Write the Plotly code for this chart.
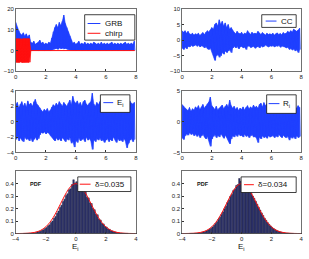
import numpy as np
import plotly.graph_objects as go

W, H = 309, 259

# ---------------- data ----------------
t = np.round(np.arange(0, 8, 0.1), 2)  # sample times (envelope read every 0.1)

grb_hi = [13.5, 11, 9.5, 8, 7.5, 8.5, 7, 8, 6.5, 7.5,
          4, 3.5, 4.5, 3, 3.5, 4, 5, 3.5, 4, 3,
          3.5, 3, 4, 3.5, 6, 9, 11, 12.5, 11, 13.5,
          12, 14, 17, 13, 11, 9, 7, 5, 3.5, 4,
          3, 3.5, 4.5, 3, 3.5, 3, 4, 3, 3.5, 3,
          3.5, 3, 4, 3.5, 3, 3.5, 3, 4, 3, 3.5,
          3, 3.5, 3, 3.5, 4, 3, 3.5, 3, 3.5, 3,
          3.5, 3, 3.5, 4, 3, 3.5, 3, 3.5, 3, 4.5]
grb_lo = [0.2, 0, 0.1, 0, 0.2, 0, 0.1, 0, 0.2, 0,
          0.1, 0, 0.2, 0, 0.1, 0, 0.2, 0, 0.1, 0,
          0.2, 0, 0.1, 0, 0.3, 0.5, 0.8, 1.0, 0.6, 1.2,
          0.9, 1.1, 0.8, 1.0, 0.6, 0.4, 0.2, 0.1, 0, 0.1,
          0, 0.2, 0, 0.1, 0, 0.2, 0, 0.1, 0, 0.2,
          0, 0.1, 0, 0.2, 0, 0.1, 0, 0.2, 0, 0.1,
          0, 0.2, 0, 0.1, 0, 0.2, 0, 0.1, 0, 0.2,
          0, 0.1, 0, 0.2, 0, 0.1, 0, 0.2, 0, 0.1]
chirp_hi = [5.7, 5.6, 5.7, 5.7, 5.5, 5.7, 5.7, 5.6, 5.7, 5.7] + [0] * 70
chirp_lo = [-5.6, -5.7, -5.7, -5.5, -5.7, -5.7, -5.6, -5.7, -5.7, -5.6] + [0] * 70

cc_hi = [3, 2.5, 3, 2.2, 2.8, 2, 1.8, 2.2, 1.6, 2,
         1.8, 2.2, 1.5, 2, 2.4, 1.8, 2.5, 3, 2.6, 3.2,
         4, 3.5, 5, 5.5, 4.5, 6.5, 5, 6, 4.5, 5.5,
         4, 5, 3.5, 4, 3, 2.5, 2, 2.8, 2.2, 2,
         2.5, 1.8, 2.2, 2, 3, 2.2, 1.8, 2.5, 2, 2.2,
         2, 2.8, 2.2, 1.8, 2.4, 2, 1.6, 2.2, 1.8, 2,
         1.8, 2.2, 1.6, 2, 2.3, 1.8, 2.1, 1.7, 2.4, 2,
         2.2, 2.8, 2.4, 3, 2.6, 3.5, 3, 2.8, 3.2, 3.8]
cc_lo = [-2.5, -3, -2.2, -2.8, -2, -2.2, -1.6, -2, -1.8, -1.5,
         -2, -1.6, -2.2, -1.8, -2, -2.5, -2, -2.8, -3, -2.5,
         -3.5, -5, -6.5, -5, -4.5, -5.5, -5, -4, -4.5, -3.5,
         -4, -3.5, -3, -4, -2.5, -2, -2.5, -2, -2.8, -2.2,
         -2, -2.5, -2.2, -3, -2, -1.8, -2.4, -2.2, -2, -2.6,
         -2.2, -2, -2.5, -1.8, -2.2, -2, -1.6, -1.9, -2.2, -1.8,
         -2, -1.7, -2.2, -1.8, -2, -1.6, -2.3, -1.9, -2, -2.2,
         -2.5, -2.2, -3, -2.6, -3.2, -2.8, -3.5, -3, -4, -3]

ei_hi = [2.2, 2.5, 1.8, 2.3, 2.6, 2.0, 2.4, 1.9, 2.7, 2.2,
         2.4, 2.0, 2.6, 2.9, 2.3, 2.1, 1.8, 1.5, 1.3, 1.6,
         1.4, 1.7, 1.3, 1.5, 1.9, 2.2, 2.0, 2.4, 2.1, 2.6,
         2.3, 2.0, 2.5, 2.2, 2.0, 2.4, 2.8, 2.2, 3.3, 2.6,
         2.4, 2.7, 2.2, 2.5, 2.0, 2.6, 2.8, 2.3, 2.1, 2.4,
         2.6, 3.7, 2.3, 2.0, 2.5, 2.2, 2.6, 2.9, 2.4, 2.1,
         2.5, 2.2, 2.7, 2.4, 2.0, 2.3, 2.5, 2.1, 2.6, 2.3,
         2.4, 2.1, 2.6, 2.3, 2.5, 2.2, 2.7, 2.4, 2.3, 2.5]
ei_lo = [-2.3, -1.9, -2.5, -2.1, -2.4, -2.6, -2.0, -2.3, -2.2, -2.5,
         -2.1, -2.6, -2.3, -2.0, -2.4, -2.2, -1.7, -1.4, -1.5, -1.3,
         -1.6, -1.4, -1.5, -1.8, -2.0, -2.3, -2.5, -2.1, -2.4, -2.2,
         -2.5, -2.1, -2.3, -2.6, -2.2, -2.4, -2.0, -2.8, -2.5, -3.3,
         -2.4, -2.7, -2.1, -2.5, -2.3, -2.2, -2.6, -2.0, -2.4, -2.2,
         -2.5, -3.6, -2.3, -2.6, -2.2, -2.4, -2.1, -2.5, -2.3, -2.7,
         -2.4, -2.2, -2.6, -2.3, -2.5, -2.0, -2.4, -2.7, -2.2, -2.5,
         -2.3, -2.6, -2.2, -2.5, -3.4, -2.8, -2.4, -2.2, -2.6, -2.3]

ri_hi = [2.8, 2.5, 2.2, 2.0, 1.8, 2.3, 1.7, 2.1, 1.9, 2.4,
         2.2, 2.6, 2.0, 2.4, 2.8, 2.2, 2.5, 2.9, 3.2, 4.0,
         2.6, 2.3, 2.0, 2.5, 1.9, 2.2, 2.4, 2.7, 2.1, 2.5,
         2.8, 2.4, 3.5, 2.6, 2.2, 2.5, 2.0, 2.3, 1.8, 2.2,
         2.0, 2.4, 1.9, 2.3, 2.6, 2.1, 2.4, 2.2, 2.7, 2.3,
         2.5, 2.2, 2.8, 3.0, 2.4, 3.1, 2.6, 2.9, 2.5, 3.0,
         2.6, 2.3, 2.2, 2.5, 2.0, 2.4, 2.1, 2.3, 2.0, 2.4,
         2.2, 2.5, 2.1, 2.6, 2.3, 2.8, 2.4, 2.2, 2.6, 2.3]
ri_lo = [-2.6, -2.9, -2.3, -2.0, -2.2, -1.8, -2.1, -1.9, -2.3, -2.0,
         -2.4, -2.1, -2.6, -2.3, -2.0, -2.5, -2.8, -2.4, -3.0, -4.0,
         -2.8, -2.4, -2.1, -2.6, -2.2, -2.5, -2.0, -2.3, -2.7, -2.2,
         -2.6, -3.0, -3.6, -2.8, -2.3, -2.5, -2.1, -2.4, -2.0, -2.3,
         -2.2, -2.5, -2.0, -2.4, -2.2, -2.6, -2.3, -2.1, -2.5, -2.4,
         -2.7, -3.4, -2.5, -2.8, -2.3, -2.6, -2.4, -2.7, -2.3, -2.5,
         -2.4, -2.2, -2.6, -2.3, -2.5, -2.1, -2.4, -2.6, -2.2, -2.5,
         -2.6, -2.3, -3.0, -2.5, -2.7, -2.4, -2.8, -2.3, -2.6, -2.4]

bin_centers = np.round(np.arange(-3.45, 3.5, 0.1), 2)
hist_left = [0.001, 0.001, 0.002, 0.002, 0.003, 0.004, 0.005, 0.006, 0.009, 0.012,
             0.016, 0.019, 0.026, 0.031, 0.041, 0.048, 0.062, 0.070, 0.088, 0.100,
             0.122, 0.137, 0.163, 0.180, 0.209, 0.226, 0.256, 0.275, 0.305, 0.318,
             0.350, 0.358, 0.392, 0.430, 0.405,
             0.415, 0.388, 0.392, 0.365, 0.372, 0.330, 0.335, 0.290, 0.285, 0.245,
             0.240, 0.200, 0.190, 0.155, 0.150, 0.115, 0.108, 0.080, 0.077, 0.056,
             0.052, 0.036, 0.034, 0.022, 0.021, 0.013, 0.012, 0.008, 0.007, 0.004,
             0.004, 0.002, 0.002, 0.001, 0.001]
hist_right = [0.001, 0.001, 0.001, 0.002, 0.003, 0.004, 0.006, 0.007, 0.010, 0.013,
              0.017, 0.022, 0.028, 0.035, 0.043, 0.053, 0.066, 0.080, 0.094, 0.112,
              0.130, 0.152, 0.172, 0.198, 0.218, 0.248, 0.268, 0.298, 0.312, 0.345,
              0.355, 0.385, 0.392, 0.440, 0.418,
              0.425, 0.390, 0.395, 0.362, 0.368, 0.335, 0.325, 0.300, 0.282, 0.258,
              0.235, 0.210, 0.188, 0.165, 0.145, 0.122, 0.106, 0.088, 0.074, 0.061,
              0.050, 0.040, 0.032, 0.025, 0.020, 0.015, 0.012, 0.009, 0.007, 0.005,
              0.004, 0.003, 0.002, 0.001, 0.001]
pdf_x = np.round(np.arange(-4, 4.01, 0.25), 2)
pdf_y = [0.0001, 0.0004, 0.0009, 0.002, 0.0044, 0.0091, 0.0175, 0.0317, 0.054,
         0.0863, 0.1295, 0.1826, 0.242, 0.3011, 0.3521, 0.3867, 0.3989,
         0.3867, 0.3521, 0.3011, 0.242, 0.1826, 0.1295, 0.0863, 0.054,
         0.0317, 0.0175, 0.0091, 0.0044, 0.002, 0.0009, 0.0004, 0.0001]

legend_grb = ["GRB", "chirp"]
delta_left, delta_right = "δ=0.035", "δ=0.034"

# ---------------- helpers ----------------
BLUE = "#2040ff"
RED = "#ff1010"
FONT = "Liberation Sans, Arial, sans-serif"


def X(px):
    return px / W


def Y(py):
    return 1 - py / H


fig = go.Figure()


def add_signal(hi, lo, color, xr, yr):
    tt = list(t)
    # filled envelope (core of the dense noisy trace)
    fig.add_trace(go.Scatter(x=tt + tt[::-1], y=list(hi) + list(lo)[::-1],
                             mode="lines", fill="toself", fillcolor=color,
                             line=dict(color=color, width=0.6),
                             xaxis=xr, yaxis=yr, showlegend=False, hoverinfo="skip"))
    # oscillating trace between the envelope values
    xs, ys = [], []
    for ti, h, l in zip(tt, hi, lo):
        xs += [ti, ti + 0.05]
        ys += [h, l]
    fig.add_trace(go.Scatter(x=xs, y=ys, mode="lines", line=dict(color=color, width=0.7),
                             xaxis=xr, yaxis=yr, showlegend=False))


add_signal(grb_hi, grb_lo, BLUE, "x", "y")
add_signal(chirp_hi, chirp_lo, RED, "x", "y")
add_signal(cc_hi, cc_lo, BLUE, "x2", "y2")
add_signal(ei_hi, ei_lo, BLUE, "x3", "y3")
add_signal(ri_hi, ri_lo, BLUE, "x4", "y4")

for hv, xr, yr in [(hist_left, "x5", "y5"), (hist_right, "x6", "y6")]:
    fig.add_trace(go.Bar(x=bin_centers, y=hv, width=0.1,
                         marker=dict(color="#333a7a", line=dict(color="#15152e", width=0.4)),
                         xaxis=xr, yaxis=yr, showlegend=False))
    fig.add_trace(go.Scatter(x=pdf_x, y=pdf_y, mode="lines",
                             line=dict(color=RED, width=1, shape="spline"),
                             xaxis=xr, yaxis=yr, showlegend=False))

axis_common = dict(showline=True, mirror=True, linecolor="#333", linewidth=0.7,
                   ticks="inside", ticklen=2, tickcolor="#333", showgrid=False,
                   zeroline=False, tickfont=dict(size=6, color="#222", family=FONT))

boxes = {
    "": ((13, 135), (6, 70)),
    "2": ((182, 303), (6, 70)),
    "3": ((13, 135), (90, 153)),
    "4": ((182, 303), (90, 153)),
    "5": ((13, 135), (172, 236)),
    "6": ((182, 303), (172, 236)),
}
xranges = {"": [0, 8], "2": [0, 8], "3": [0, 8], "4": [0, 8], "5": [-4, 4], "6": [-4, 4]}
xticks = {"": [0, 2, 4, 6, 8], "2": [0, 2, 4, 6, 8], "3": [0, 2, 4, 6, 8],
          "4": [0, 2, 4, 6, 8], "5": [-4, -2, 0, 2, 4], "6": [-4, -2, 0, 2, 4]}
yranges = {"": [-10, 20], "2": [-10, 10], "3": [-4, 4], "4": [-5, 5],
           "5": [0, 0.5], "6": [0, 0.5]}
yticks = {"": [-10, 0, 10, 20], "2": [-10, -5, 0, 5, 10], "3": [-4, -2, 0, 2, 4],
          "4": [-5, 0, 5], "5": [0, 0.1, 0.2, 0.3, 0.4], "6": [0, 0.1, 0.2, 0.3, 0.4]}

layout = dict(width=W, height=H, margin=dict(l=0, r=0, t=0, b=0),
              paper_bgcolor="white", plot_bgcolor="white", bargap=0,
              font=dict(family=FONT, color="#222"))
for k, ((x0, x1), (y0, y1)) in boxes.items():
    layout["xaxis" + k] = dict(axis_common, domain=[X(x0), X(x1)], range=xranges[k],
                               tickvals=xticks[k], anchor="y" + k)
    layout["yaxis" + k] = dict(axis_common, domain=[Y(y1), Y(y0)], range=yranges[k],
                               tickvals=yticks[k], anchor="x" + k)
fig.update_layout(**layout)

shapes = []
annots = []


def legend_box(x0, x1, y0, y1):
    shapes.append(dict(type="rect", xref="paper", yref="paper", x0=X(x0), x1=X(x1),
                       y0=Y(y1), y1=Y(y0), line=dict(color="#111", width=0.8),
                       fillcolor="white", layer="above"))


def legend_item(lx0, lx1, ly, color, text, tx, size=8):
    shapes.append(dict(type="line", xref="paper", yref="paper", x0=X(lx0), x1=X(lx1),
                       y0=Y(ly), y1=Y(ly), line=dict(color=color, width=1), layer="above"))
    annots.append(dict(xref="paper", yref="paper", x=X(tx), y=Y(ly), text=text,
                       showarrow=False, xanchor="left", yanchor="middle",
                       font=dict(size=size, color="#111", family=FONT)))


legend_box(83, 134, 12, 38)
legend_item(86, 99, 21, BLUE, legend_grb[0], 102)
legend_item(86, 99, 31, RED, legend_grb[1], 102)

legend_box(263, 298, 12, 25)
legend_item(267, 278, 18.5, BLUE, "CC", 281)

legend_box(99, 129, 94, 112)
legend_item(102, 112, 102, BLUE, "E<sub>i</sub>", 114)

legend_box(268, 298, 94, 113)
legend_item(270, 281, 103, BLUE, "R<sub>i</sub>", 283)

legend_box(76, 130, 178, 193)
legend_item(78, 89, 185.5, RED, delta_left, 91)

legend_box(242, 298, 178, 194)
legend_item(245, 255, 186, RED, delta_right, 257)

for cx in (33.5, 203.5):
    annots.append(dict(xref="paper", yref="paper", x=X(cx), y=Y(185), text="<b>PDF</b>",
                       showarrow=False, xanchor="center", yanchor="middle",
                       font=dict(size=5.5, color="#111", family=FONT)))
for cx in (74, 242.5):
    annots.append(dict(xref="paper", yref="paper", x=X(cx), y=Y(250), text="E<sub>i</sub>",
                       showarrow=False, xanchor="center", yanchor="middle",
                       font=dict(size=8, color="#111", family=FONT)))

fig.update_layout(shapes=shapes, annotations=annots)
fig.write_html("out.html", config={"displayModeBar": False, "staticPlot": True},
               post_script="document.body.style.margin='0';document.body.style.padding='0';")
